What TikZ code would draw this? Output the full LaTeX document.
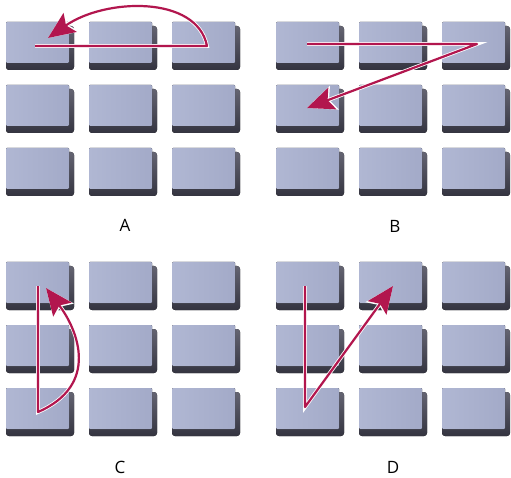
\documentclass[tikz,border=0pt]{standalone}
\usepackage{fontspec}
\setmainfont{Open Sans}
\usetikzlibrary{arrows.meta}
\definecolor{keyface}{RGB}{176,183,211}
\definecolor{keyfacedark}{RGB}{163,170,200}
\definecolor{keyshadow}{RGB}{52,52,64}
\definecolor{keyshadowlight}{RGB}{100,100,114}
\definecolor{arrowred}{RGB}{178,22,78}
\begin{document}
\begin{tikzpicture}[x=1pt,y=-1pt,
  keyshade/.style={top color=keyshadowlight,bottom color=keyshadow,rounded corners=3pt},
  keytop/.style={left color=keyface,right color=keyfacedark,rounded corners=1pt},
  tabarrow/.style={draw=arrowred,line width=2.2pt,line join=round,
    -{Stealth[length=27pt,width=23pt,inset=5pt]},
    preaction={draw=white,line width=3.8pt,-{Stealth[length=29pt,width=25pt,inset=5.5pt]}}},
  panellabel/.style={font=\fontsize{17}{20}\selectfont}]
  \fill[white] (0,0) rectangle (511,478);
  \useasboundingbox (0,0) rectangle (511,478);
  % keys of the four panels
  \foreach \px/\py in {0/0,270/0,0/240,270/240}
    \foreach \cx in {6,89,172}
      \foreach \ry in {22,85,148} {
        \fill[keyshade] (\px+\cx,\py+\ry+4) rectangle ++(68,44);
        \fill[keytop] (\px+\cx,\py+\ry) rectangle ++(63,41);
      }
  % A: along the top row, back over it
  \coordinate (a1) at (35,46);
  \coordinate (a2) at (207,46);
  \coordinate (a3) at (48,38);
  \draw[tabarrow] (a1) -- (a2) .. controls (197,-5) and (105,-2) .. (a3);
  % B: along the top row, then down to the next row
  \coordinate (b1) at (307,44);
  \coordinate (b2) at (477,44);
  \coordinate (b3) at (307,108);
  \draw[tabarrow] (b1) -- (b2) -- (b3);
  % C: down the first column, back up beside it
  \coordinate (c1) at (38,286);
  \coordinate (c2) at (38,412);
  \coordinate (c3) at (46,288);
  \draw[tabarrow] (c1) -- (c2) .. controls (100,385) and (78,330) .. (c3);
  % D: down the first column, then up to the next one
  \coordinate (d1) at (305,286);
  \coordinate (d2) at (305,407);
  \coordinate (d3) at (393,286);
  \draw[tabarrow] (d1) -- (d2) -- (d3);
  % panel labels
  \node[panellabel] (labA) at (125,225) {A};
  \node[panellabel] (labB) at (395,226) {B};
  \node[panellabel] (labC) at (120,467) {C};
  \node[panellabel] (labD) at (393,467) {D};
\end{tikzpicture}
\end{document}
